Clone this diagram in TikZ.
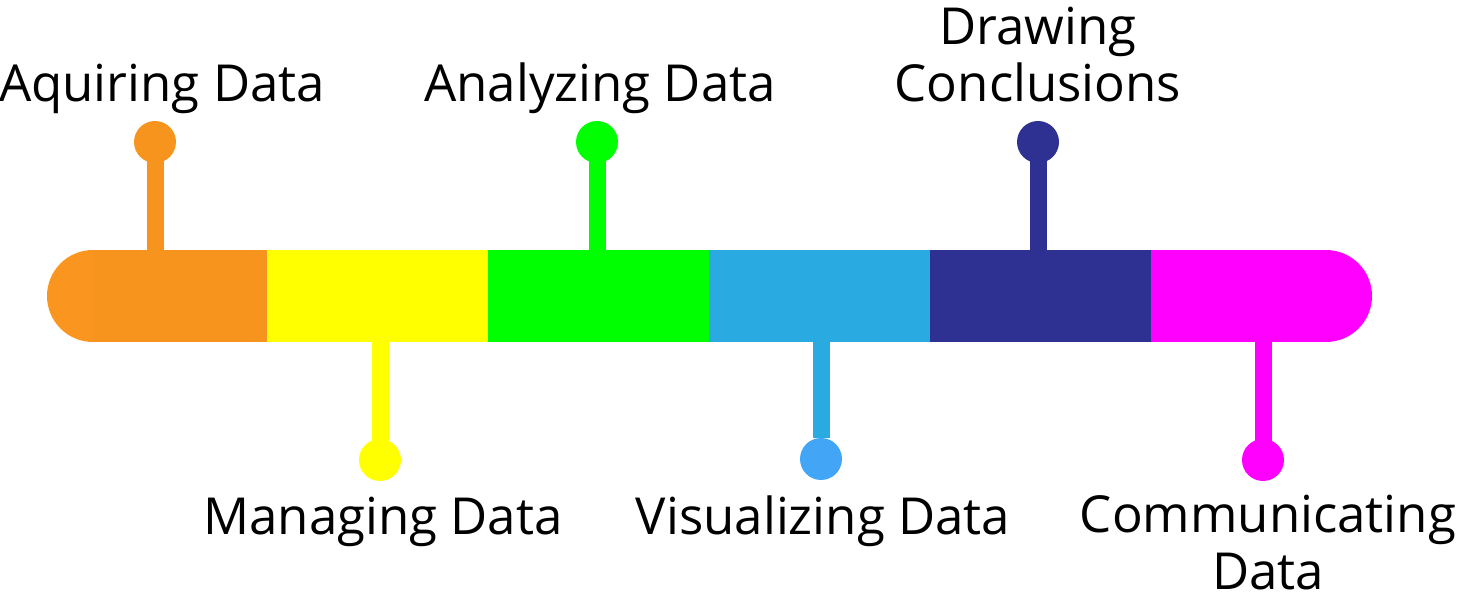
\documentclass[tikz,border=0pt]{standalone}
\usepackage{fontspec}
\setmainfont{Open Sans}
\definecolor{corange}{HTML}{F7941E}
\definecolor{corangecap}{HTML}{FA951F}
\definecolor{cyellow}{HTML}{FFFF00}
\definecolor{cgreen}{HTML}{00FF00}
\definecolor{cblue}{HTML}{29ABE2}
\definecolor{cbluedot}{HTML}{42A5F5}
\definecolor{cnavy}{HTML}{2E3192}
\definecolor{cmagenta}{HTML}{FF00FF}
\begin{document}
\begin{tikzpicture}[x=0.5pt,y=-0.5pt,
  seg/.style={rectangle,inner sep=0pt,outer sep=0pt,minimum width=110.5pt,minimum height=46pt,anchor=west},
  dot/.style={circle,inner sep=0pt,outer sep=0pt,minimum size=21pt},
  stem/.style={line width=8.5pt},
  lbl/.style={font=\fontsize{25.5}{28.5}\selectfont,anchor=base,align=center,inner sep=0pt}]
\useasboundingbox (0,0) rectangle (1467,608);
% bar
\node[circle,fill=corangecap,inner sep=0pt,minimum size=46pt] (capl) at (93,296) {};
\node[circle,fill=cmagenta,inner sep=0pt,minimum size=46pt] (capr) at (1326,296) {};
\node[seg,fill=corange,minimum width=87pt] (s1) at (93,296) {};
\node[seg,fill=cyellow] (s2) at (267,296) {};
\node[seg,fill=cgreen] (s3) at (488,296) {};
\node[seg,fill=cblue] (s4) at (709,296) {};
\node[seg,fill=cnavy] (s5) at (930,296) {};
\node[seg,fill=cmagenta,minimum width=87.5pt] (s6) at (1151,296) {};
% dots
\node[dot,fill=corange] (d1) at (155,142) {};
\node[dot,fill=cyellow] (d2) at (380,460) {};
\node[dot,fill=cgreen] (d3) at (597,142) {};
\node[dot,fill=cbluedot] (d4) at (821,459) {};
\node[dot,fill=cnavy] (d5) at (1038,142) {};
\node[dot,fill=cmagenta] (d6) at (1263,460) {};
% stems
\draw[stem,corange] (d1.center) -- (d1.center |- s1.north);
\draw[stem,cyellow] (d2.center) -- (d2.center |- s2.south);
\draw[stem,cgreen] (d3.center) -- (d3.center |- s3.north);
\draw[stem,cblue] (d4.north) -- (d4.center |- s4.south);
\draw[stem,cnavy] (d5.center) -- (d5.center |- s5.north);
\draw[stem,cmagenta] (d6.center) -- (d6.center |- s6.south);
% labels
\node[lbl] (t1) at (162,102) {Aquiring Data};
\node[lbl] (t2) at (383,535) {Managing Data};
\node[lbl] (t3) at (600,102) {Analyzing Data};
\node[lbl] (t4) at (823,535) {Visualizing Data};
\node[lbl] (t5) at (1038,102) {Drawing\\Conclusions};
\node[lbl] (t6) at (1268,590) {Communicating\\Data};
\end{tikzpicture}
\end{document}
